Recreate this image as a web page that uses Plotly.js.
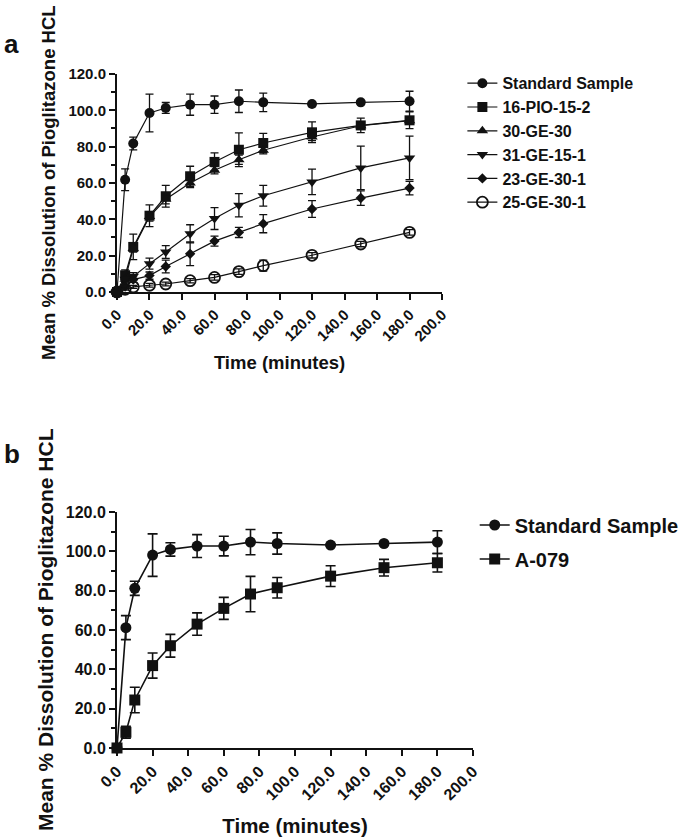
<!DOCTYPE html>
<html>
<head>
<meta charset="utf-8">
<script src="https://cdn.plot.ly/plotly-3.0.1.min.js"></script>
<style>html,body{margin:0;padding:0;background:#fff;}#chart{width:685px;height:839px;}</style>
</head>
<body>
<div id="chart"></div>
<script>
// Time points (minutes)
const time = [0, 5, 10, 20, 30, 45, 60, 75, 90, 120, 150, 180];
const xTickVals = [0, 20, 40, 60, 80, 100, 120, 140, 160, 180, 200];
const yTickVals = [0, 20, 40, 60, 80, 100, 120];

// Panel a
const namesA = ["Standard Sample", "16-PIO-15-2", "30-GE-30", "31-GE-15-1", "23-GE-30-1", "25-GE-30-1"];
const standardMean = [0, 61.8, 81.7, 98.5, 101.3, 103.1, 103.1, 105.0, 104.4, 103.5, 104.4, 105.0];
const standardSD   = [0, 6.0, 3.5, 10.4, 3.0, 5.8, 4.8, 6.2, 5.1, 0.5, 0.8, 5.5];
const pio1515Mean  = [0, 9.2, 24.8, 42.0, 52.7, 63.7, 71.6, 78.3, 82.0, 87.9, 91.7, 94.5];
const pio1515SD    = [0, 3.0, 7.0, 6.0, 6.0, 5.5, 5.0, 9.3, 5.3, 5.7, 4.0, 4.6];
const ge30Mean     = [0, 7.0, 24.0, 41.5, 51.0, 60.0, 67.0, 72.8, 78.0, 85.3, 91.5, 94.3];
const ge30SD       = [0, 1.5, 2.0, 2.5, 2.5, 2.5, 2.0, 2.5, 2.0, 2.0, 2.0, 2.0];
const ge1515Mean   = [0, 7.0, 8.6, 15.6, 22.0, 32.0, 40.4, 47.7, 53.0, 60.6, 68.3, 73.8];
const ge1515SD     = [0, 1.5, 2.0, 3.0, 3.5, 5.0, 6.0, 6.4, 5.7, 7.0, 12.0, 12.0];
const ge2330Mean   = [0, 3.0, 6.8, 9.0, 14.0, 21.0, 28.0, 32.8, 37.6, 45.7, 51.7, 57.2];
const ge2330SD     = [0, 1.0, 1.5, 2.0, 3.5, 6.5, 2.8, 2.8, 5.0, 4.6, 4.0, 3.7];
const ge2530Mean   = [0, 1.5, 2.8, 3.7, 4.4, 6.2, 8.0, 11.2, 14.5, 20.2, 26.4, 32.8];
const ge2530SD     = [0, 0.5, 0.8, 1.0, 1.0, 1.2, 1.5, 1.5, 3.0, 1.5, 1.5, 1.5];

// Panel b
const namesB = ["Standard Sample", "A-079"];
const standardMeanB = [0, 61.2, 81.2, 98.1, 101.0, 102.7, 102.7, 104.7, 104.0, 103.2, 104.0, 104.7];
const standardSDB   = [0, 6.1, 3.6, 10.8, 3.4, 5.8, 5.0, 6.4, 5.4, 0.5, 0.8, 5.8];
const a079Mean      = [0, 8.0, 24.4, 41.9, 52.0, 63.0, 71.0, 78.3, 81.5, 87.4, 91.7, 94.2];
const a079SD        = [0, 3.0, 6.5, 6.4, 5.8, 5.7, 5.6, 9.0, 5.2, 5.3, 4.2, 4.7];

const FONT = "Liberation Sans, Arial, sans-serif";
const INK = "#111";

const symbolsA = ["circle", "square", "triangle-up", "triangle-down", "diamond", "circle-open"];
const sizesA = [10, 10, 10, 10, 8, 11];
const meansA = [standardMean, pio1515Mean, ge30Mean, ge1515Mean, ge2330Mean, ge2530Mean];
const sdsA = [standardSD, pio1515SD, ge30SD, ge1515SD, ge2330SD, ge2530SD];

const traces = [];
for (let i = 0; i < namesA.length; i++) {
  traces.push({
    type: "scatter", mode: "lines+markers", x: time, y: meansA[i], name: namesA[i],
    xaxis: "x", yaxis: "y", legend: "legend", cliponaxis: false,
    line: {color: INK, width: 1.2},
    marker: {symbol: symbolsA[i], size: sizesA[i], color: INK, line: {color: INK, width: symbolsA[i] === "circle-open" ? 1.8 : 0}},
    error_y: {type: "data", array: sdsA[i], visible: true, color: INK, thickness: 1.3, width: 4}
  });
}
const symbolsB = ["circle", "square"];
const meansB = [standardMeanB, a079Mean];
const sdsB = [standardSDB, a079SD];
for (let i = 0; i < namesB.length; i++) {
  traces.push({
    type: "scatter", mode: "lines+markers", x: time, y: meansB[i], name: namesB[i],
    xaxis: "x2", yaxis: "y2", legend: "legend2", legendgroup: "g" + i, cliponaxis: false,
    line: {color: INK, width: 1.6},
    marker: {symbol: symbolsB[i], size: 11, color: INK},
    error_y: {type: "data", array: sdsB[i], visible: true, color: INK, thickness: 1.6, width: 5}
  });
}

function xAxis(domain, anchor, size) {
  return {
    domain: domain, anchor: anchor, range: [0, 200], tickvals: xTickVals, tickformat: ".1f",
    tickangle: -45, showgrid: false, zeroline: false, showline: true, linecolor: INK, linewidth: 2,
    ticks: "outside", ticklen: 6, tickwidth: 2, tickcolor: INK,
    tickfont: {family: FONT, size: size, color: INK, weight: "bold"}
  };
}
function yAxis(domain, anchor, size) {
  return {
    domain: domain, anchor: anchor, range: [0, 120], tickvals: yTickVals, tickformat: ".1f",
    showgrid: false, zeroline: false, showline: true, linecolor: INK, linewidth: 2,
    ticks: "outside", ticklen: 6, tickwidth: 2, tickcolor: INK,
    minor: {dtick: 10, ticks: "outside", ticklen: 4, tickwidth: 2, tickcolor: INK, showgrid: false},
    tickfont: {family: FONT, size: size, color: INK, weight: "bold"}
  };
}

const xa = xAxis([0.1708, 0.6453], "y", 15);
xa.title = {text: "Time (minutes)", font: {family: FONT, size: 18.5, color: INK, weight: "bold"}, standoff: 13};
const xb = xAxis([0.1708, 0.6905], "y2", 16);
xb.title = {text: "Time (minutes)", font: {family: FONT, size: 20.5, color: INK, weight: "bold"}, standoff: 16};

const layout = {
  width: 685, height: 839, margin: {l: 0, r: 0, t: 0, b: 0},
  paper_bgcolor: "#fff", plot_bgcolor: "#fff",
  font: {family: FONT, color: INK},
  showlegend: true,
  xaxis: xa, yaxis: yAxis([0.652, 0.9118], "x", 15),
  xaxis2: xb, yaxis2: yAxis([0.1085, 0.3897], "x2", 16),
  legend: {x: 0.675, xanchor: "left", y: 0.921, yanchor: "top", bgcolor: "rgba(0,0,0,0)",
    font: {family: FONT, size: 16, color: INK, weight: "bold"}, tracegroupgap: 0},
  legend2: {x: 0.693, xanchor: "left", y: 0.3975, yanchor: "top", bgcolor: "rgba(0,0,0,0)",
    font: {family: FONT, size: 20, color: INK, weight: "bold"}, traceorder: "grouped", tracegroupgap: 5},
  annotations: [
    {text: "a", x: 0.003, y: 1 - 27 / 839, xref: "paper", yref: "paper", xanchor: "left", yanchor: "top",
     showarrow: false, font: {family: FONT, size: 26, color: INK, weight: "bold"}},
    {text: "b", x: 0.003, y: 1 - 437 / 839, xref: "paper", yref: "paper", xanchor: "left", yanchor: "top",
     showarrow: false, font: {family: FONT, size: 26, color: INK, weight: "bold"}},
    {text: "Mean % Dissolution of Pioglitazone HCL", x: 49 / 685, y: 1 - 183 / 839, xref: "paper", yref: "paper",
     xanchor: "center", yanchor: "middle", textangle: -90, showarrow: false,
     font: {family: FONT, size: 18.5, color: INK, weight: "bold"}},
    {text: "Mean % Dissolution of Pioglitazone HCL", x: 45 / 685, y: 1 - 630 / 839, xref: "paper", yref: "paper",
     xanchor: "center", yanchor: "middle", textangle: -90, showarrow: false,
     font: {family: FONT, size: 21, color: INK, weight: "bold"}}
  ]
};

Plotly.newPlot("chart", traces, layout, {displayModeBar: false, staticPlot: true});
</script>
</body>
</html>
